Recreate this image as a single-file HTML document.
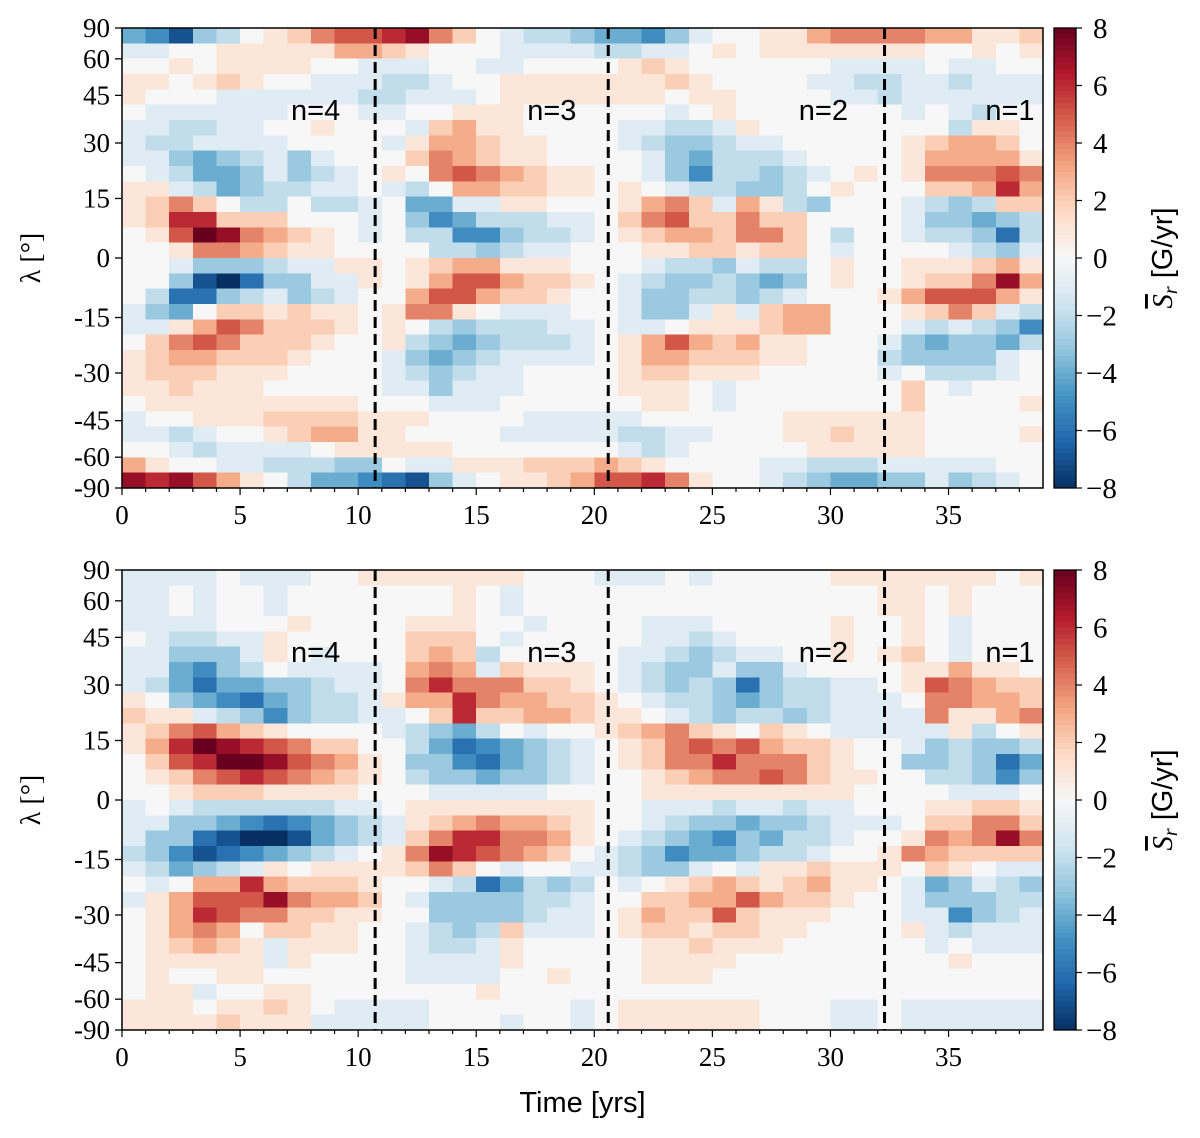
<!DOCTYPE html>
<html><head><meta charset="utf-8">
<style>
body{margin:0;background:#fff;}
svg{display:block;}
text{font-family:"Liberation Serif",serif;fill:#000;}
.sans{font-family:"Liberation Sans",sans-serif;}
</style></head>
<body>
<svg id="chart" width="1200" height="1138" viewBox="0 0 1200 1138"></svg>
<script>
// ---- data (values in G/yr; digits = +, a..h = -1..-8), 30 latitude rows (north->south) x 39 one-year columns
const years = [0,5,10,15,20,25,30,35];
const latTicks = [90,60,45,30,15,0,-15,-30,-45,-60,-90];
const cbTicks = [8,6,4,2,0,-2,-4,-6,-8];
const cycleBoundaries = [10.72,20.59,32.29];
const cycleLabels = ["n=4","n=3","n=2","n=1"];
const cycleLabelYears = [8.2,18.2,29.7,37.6];
const topRows = [
"degcb01245567420abbc|ddeca00113444433112",
"aa00111113321000aaaa|bbaa010111111100101",
"0010111100aaa00aa000|0121000000aaaa0aa00",
"11012100aaabba001111|111210000aabbaabaaa",
"1000aaaaaabbaaa01111|1110110000aabaaaaaa",
"0aaaaaa000aa00111000|000a010000000a0ab00",
"aabbaa001000a2311000|0aabba100000000b110",
"abbaaaa0000a13321100|0abccbaa00000123320",
"aacdcbaca00024321100|00acdbbba0000133331",
"0abddcacba0104543211|00acebbcba010144454",
"11abdcbbaa0ab0332211|010abbccb0100022363",
"12420bb0bba0ddaa1100|01342a31bc000abcb22",
"1266222000a0cedbbbaa|0245224220000accdcb",
"0158743210a0bbeecbba|0123324420b00abbcfb",
"0014432110000bbcbaa0|0011221220a0000abca",
"00acccbaa11012331110|00abbcabb0100111231",
"00cghfccaa1013553221|0abccbcdc0100122473",
"0bffcbacba0035532210|0accbbcba0001355531",
"acd0221211014410aaa0|0acca1a2330001242ab",
"aa13542221010bcbbbaa|0aa0111233000ababce",
"024542221001bcdcbbba|013532311000acdccdb",
"12332221000acdcbaaaa|013322211000bcccca0",
"12221110000abcbaa000|012211100000a0bbba0",
"11211100000aacaaa000|01110a000000020a000",
"0111111111000aaa0000|00110a0000000200001",
"a0011122221110000aaa|aa00000011111100000",
"aaba001233110000aaaa|abbaa00011211100001",
"00abaaaa011111000000|0aba000001111100000",
"3100aabbbcc0aa111222|3210000aabbbaaaaa00",
"7675310bddefgca01123|5564100abcddccacba0"
];
const bottomRows = [
"aaaa0aaa001111111000|aaa0a00000111111101",
"aa0a00a000000010a000|0000000000001101000",
"aa0a00a000000010a000|0000000000001101000",
"aaaa0001000011100a00|00aaa0000010010a000",
"0abbaa1000002220a000|00aaba000010010a000",
"aaccca10a000232b0000|0aabcbaa0010120a000",
"aadecb0aaaa0343a2111|0abccacca0000113110",
"abdfddccbaa046444221|0abcbcfcbbaa0154322",
"10cdefdcbba133643322|10abbcdcbbaaa044332",
"211abcecbbaa02622332|110abcbbcbaaaa41134",
"12453210000abcdb0a00|1234210210aaaaa1b01",
"136876542200bdfedcba|0124545322100acbccb",
"025688754310ccefdcba|0124464442100ccbcfd",
"012456543210bccdccba|00123445421100bbcec",
"0012221111000aaaaa00|001111111110000aaa0",
"a0abbbbbbaa011111111|00aaabaabaa00011221",
"aaccdefedcba12343321|00abccdccbaaa022442",
"accfghhgdcba24664431|0abcdecdbba00143474",
"bcegfedcba0147654320|abceddcbba001432222",
"abdcba1011112420a00a|abcca0a1121110210aa",
"0a03363222100abfdbcb|0a01232123110adcabc",
"a13555743320accccbba|0022335322100acccbb",
"0136544221100ccccbaa|0132252111000aaecba",
"013430221100abcb2aaa|01221221100001abaaa",
"012321a11100abba1000|00112111000000a0aaa",
"011111a10000aaaa1000|0011110000000001000",
"010011000000aaaa0010|0011100000000000000",
"011a0011000000010000|0000000000000000000",
"111011210aaaa000000a|0111111000aa0aaaaaa",
"11112111aaaaa000a00a|0111111000aa0aaaaaa"
];
</script>
<script>
const NS="http://www.w3.org/2000/svg";
const svg=document.getElementById('chart');
function mk(tag,attrs,parent){const e=document.createElementNS(NS,tag);for(const k in attrs)e.setAttribute(k,attrs[k]);(parent||svg).appendChild(e);return e;}
function decode(s){const out=[];for(const ch of s.replace('|','')){if(ch>='0'&&ch<='9')out.push(+ch);else out.push(-(ch.charCodeAt(0)-96));}while(out.length<39)out.push(0);return out.slice(0,39);}
const stops=["#053061","#2166ac","#4393c3","#92c5de","#d1e5f0","#f7f7f7","#fddbc7","#f4a582","#d6604d","#b2182b","#67001f"];
function hex(h){return [parseInt(h.substr(1,2),16),parseInt(h.substr(3,2),16),parseInt(h.substr(5,2),16)];}
function cmap(v){let t=(Math.max(-8,Math.min(8,v))+8)/16*10;let i=Math.min(9,Math.floor(t));let f=t-i;const a=hex(stops[i]),b=hex(stops[i+1]);
 return 'rgb('+a.map((x,k)=>Math.round(x+(b[k]-x)*f)).join(',')+')';}
const X0=122,X1=1043,TMAX=39;
function xOf(t){return X0+(t/TMAX)*(X1-X0);}
const CBX0=1054,CBX1=1076;

function panel(rows,top,name,showXlabel){
  const H=460,bottom=top+H;
  const g=mk('g',{});
  
  
  const yLat=lat=>top+(1-Math.sin(lat*Math.PI/180))/2*H;
  const nR=rows.length,rh=H/nR;
  const cells=mk('g',{'shape-rendering':'crispEdges'},g);
  
  
  rows.forEach((s,i)=>{const vals=decode(s);vals.forEach((v,j)=>{
    const x=xOf(j),w=xOf(j+1)-x;
    const r=mk('rect',{x:x.toFixed(2),y:(top+i*rh).toFixed(2),width:(w+0.6).toFixed(2),height:(rh+0.6).toFixed(2),fill:cmap(v)},cells);
    
    
  });});
  cycleBoundaries.forEach(b=>{const l=mk('line',{x1:xOf(b),x2:xOf(b),y1:top,y2:bottom,stroke:'#000','stroke-width':3,'stroke-dasharray':'11,6'},g);
    
    });
  cycleLabels.forEach((c,k)=>{const t=mk('text',{x:xOf(cycleLabelYears[k]),y:top+92,'font-size':29,'text-anchor':'middle',class:'sans'},g);t.textContent=c;
    
    });
  const fr=mk('rect',{x:X0,y:top,width:X1-X0,height:H,fill:'none',stroke:'#000','stroke-width':1.5},g);
  
  
  latTicks.forEach(l=>{const y=yLat(l);mk('line',{x1:X0-7,x2:X0,y1:y,y2:y,stroke:'#000','stroke-width':1.3},g);
    const t=mk('text',{x:X0-12,y:y+9,'font-size':27,'text-anchor':'end'},g);t.textContent=l;
    
    });
  for(let t=0;t<TMAX;t++){const x=xOf(t);const major=t%5===0;mk('line',{x1:x,x2:x,y1:bottom,y2:bottom+(major?7:4),stroke:'#000','stroke-width':1.2},g);}
  years.forEach(yv=>{const t=mk('text',{x:xOf(yv),y:bottom+36,'font-size':27,'text-anchor':'middle'},g);t.textContent=yv;
    
    });
  const yl=mk('text',{x:0,y:0,'font-size':28,'text-anchor':'middle',transform:`translate(40,${top+H/2}) rotate(-90)`},g);yl.textContent='λ [°]';
  
  
  const cb=mk('g',{},g);
  
  
  const n=80;for(let k=0;k<n;k++){const v=8-16*(k+0.5)/n;mk('rect',{x:CBX0,y:(top+k*H/n).toFixed(2),width:CBX1-CBX0,height:(H/n+0.6).toFixed(2),fill:cmap(v),'shape-rendering':'crispEdges'},cb);}
  mk('rect',{x:CBX0,y:top,width:CBX1-CBX0,height:H,fill:'none',stroke:'#000','stroke-width':1.3},cb);
  cbTicks.forEach(v=>{const y=top+(8-v)/16*H;mk('line',{x1:CBX1,x2:CBX1+6,y1:y,y2:y,stroke:'#000','stroke-width':1.2},cb);
    const t=mk('text',{x:CBX1+(v<0?10:17),y:y+10,'font-size':29},cb);t.textContent=(v<0?'−':'')+Math.abs(v);
    
    });
  const cl=mk('text',{x:0,y:0,'font-size':29,'text-anchor':'middle',transform:`translate(1172,${top+H/2}) rotate(-90)`},cb);
  const ts=mk('tspan',{'font-style':'italic','text-decoration':'overline'},cl);ts.textContent='S';
  const ts2=mk('tspan',{'font-style':'italic','font-size':20,dy:5},cl);ts2.textContent='r';
  const ts3=mk('tspan',{dy:-5,class:'sans'},cl);ts3.textContent=' [G/yr]';
  
  
  if(showXlabel){const xl=mk('text',{x:(X0+X1)/2,y:1112,'font-size':29,'text-anchor':'middle',class:'sans'},g);xl.textContent='Time [yrs]';
    
    }
}
panel(topRows,28,'top-panel',false);
panel(bottomRows,570,'bottom-panel',true);
</script>
</body></html>
